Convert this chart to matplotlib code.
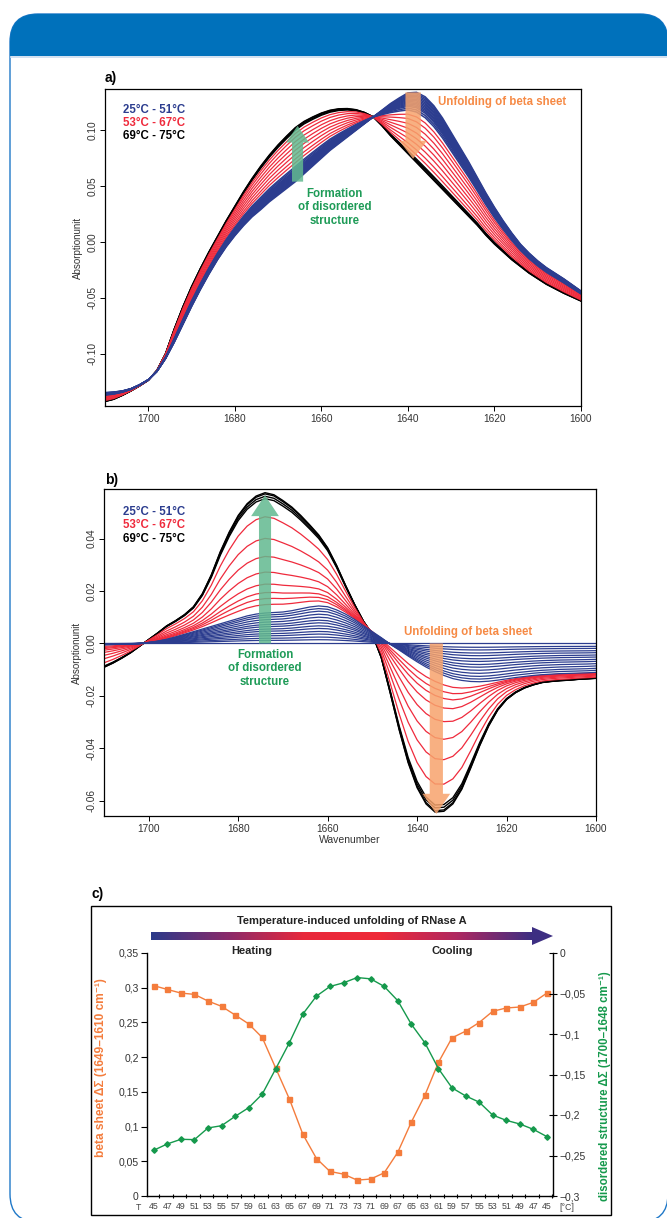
import numpy as np
import matplotlib
matplotlib.use('Agg')
import matplotlib.pyplot as plt
from matplotlib.patches import FancyBboxPatch, Rectangle, Polygon
from matplotlib.colors import LinearSegmentedColormap
from matplotlib.ticker import FuncFormatter

plt.rcParams['font.family'] = ['Liberation Sans', 'DejaVu Sans']

# ---- data ----
wavenumber = [1710, 1708, 1706, 1704, 1702, 1700, 1698, 1696, 1694, 1692, 1690, 1688, 1686,
              1684, 1682, 1680, 1678, 1676, 1674, 1672, 1670, 1668, 1666, 1664, 1662, 1660,
              1658, 1656, 1654, 1652, 1650, 1648, 1646, 1644, 1642, 1640, 1638, 1636, 1634,
              1632, 1630, 1628, 1626, 1624, 1622, 1620, 1618, 1616, 1614, 1612, 1610, 1608,
              1606, 1604, 1602, 1600]

# panel a: absorbance spectrum at 25 °C and at 75 °C
abs_25 = [-0.135, -0.1345, -0.1335, -0.1315, -0.128, -0.1235, -0.116, -0.1045, -0.090,
          -0.074, -0.058, -0.043, -0.029, -0.016, -0.0045, 0.0055, 0.0145, 0.0225, 0.029,
          0.036, 0.042, 0.048, 0.054, 0.061, 0.068, 0.075, 0.082, 0.088, 0.094, 0.100,
          0.106, 0.112, 0.118, 0.124, 0.129, 0.1335, 0.134, 0.130, 0.122, 0.111, 0.098,
          0.085, 0.072, 0.058, 0.044, 0.031, 0.019, 0.008, -0.002, -0.010, -0.017, -0.023,
          -0.028, -0.033, -0.0385, -0.044]
abs_75 = [-0.143, -0.141, -0.1375, -0.1335, -0.129, -0.124, -0.115, -0.100, -0.078, -0.058,
          -0.040, -0.024, -0.009, 0.005, 0.019, 0.032, 0.045, 0.057, 0.068, 0.078, 0.087,
          0.095, 0.1025, 0.108, 0.112, 0.1155, 0.118, 0.1193, 0.1195, 0.1185, 0.116, 0.112,
          0.104, 0.095, 0.087, 0.079, 0.071, 0.063, 0.055, 0.047, 0.039, 0.031, 0.023,
          0.015, 0.006, -0.002, -0.009, -0.016, -0.022, -0.028, -0.033, -0.038, -0.042,
          -0.046, -0.0495, -0.053]

# panel b: difference spectra at 51 °C and at 75 °C
diff_51 = [-0.0005, -0.0004, -0.0003, -0.0002, 0.0, 0.0004, 0.0009, 0.0016, 0.0025, 0.0035,
           0.0045, 0.0055, 0.0065, 0.0075, 0.0085, 0.0095, 0.0105, 0.0112, 0.0116, 0.0118,
           0.0120, 0.0125, 0.0132, 0.0139, 0.0143, 0.0140, 0.0128, 0.0112, 0.0092, 0.0068,
           0.0045, 0.0022, -0.0003, -0.0025, -0.0048, -0.0070, -0.0090, -0.0107, -0.0122,
           -0.0134, -0.0141, -0.0145, -0.0146, -0.0144, -0.0140, -0.0135, -0.0130, -0.0126,
           -0.0122, -0.0119, -0.0117, -0.0115, -0.0114, -0.0113, -0.0112, -0.0110]
diff_75 = [-0.0091, -0.0075, -0.0056, -0.0035, -0.0010, 0.0015, 0.0040, 0.0067, 0.0087,
           0.0110, 0.0140, 0.0190, 0.0262, 0.0350, 0.0425, 0.0488, 0.0533, 0.0562, 0.0575,
           0.0567, 0.0545, 0.0520, 0.0488, 0.0452, 0.0414, 0.0365, 0.0298, 0.0222, 0.0150,
           0.0085, 0.0035, -0.0055, -0.0190, -0.0330, -0.0455, -0.0550, -0.0612, -0.0643,
           -0.0640, -0.0612, -0.0556, -0.0475, -0.0390, -0.0315, -0.0255, -0.0214, -0.0188,
           -0.0170, -0.0158, -0.0149, -0.0145, -0.0142, -0.0140, -0.0137, -0.0135, -0.0133]

# relative position of each temperature curve between the two reference spectra
mix_a_blue = [0.0, 0.02, 0.04, 0.06, 0.08, 0.10, 0.12, 0.14, 0.16, 0.18, 0.20, 0.22, 0.25, 0.28]
mix_a_red = [0.35, 0.42, 0.50, 0.58, 0.66, 0.74, 0.82, 0.89]
mix_a_black = [0.95, 0.97, 0.99, 1.0]

mix_b_blue = [0.0, 0.10, 0.17, 0.25, 0.32, 0.40, 0.47, 0.55, 0.62, 0.70, 0.78, 0.86, 0.93, 1.0]
mix_b_red = [0.07, 0.12, 0.17, 0.24, 0.34, 0.47, 0.62, 0.80]
mix_b_black = [0.95, 0.97, 0.99, 1.0]

# panel c
temp_labels = ['45', '47', '49', '51', '53', '55', '57', '59', '61', '63', '65', '67', '69',
               '71', '73', '73', '71', '69', '67', '65', '63', '61', '59', '57', '55', '53',
               '51', '49', '47', '45']
beta_sheet = [0.303, 0.2975, 0.2923, 0.2904, 0.2808, 0.2732, 0.2607, 0.2479, 0.2283,
              0.1839, 0.1399, 0.0888, 0.054, 0.0353, 0.0315, 0.0229, 0.0244, 0.0334,
              0.063, 0.1065, 0.1452, 0.1925, 0.2278, 0.2374, 0.2498, 0.266, 0.2708,
              0.2722, 0.2789, 0.2923]
disordered = [-0.2435, -0.2357, -0.230, -0.2304, -0.216, -0.2132, -0.2017, -0.191, -0.1743,
              -0.1428, -0.1109, -0.0753, -0.0532, -0.0413, -0.0368, -0.0303, -0.0319,
              -0.0413, -0.0589, -0.088, -0.1109, -0.1428, -0.1665, -0.1764, -0.1841,
              -0.2001, -0.2066, -0.2111, -0.2177, -0.2267]

BLUE = '#2c3d8f'
RED = '#ef2a3c'
GREEN_TXT = '#1e9b57'
ORANGE_TXT = '#f68a45'
GREEN_ARROW = '#62b98f'
ORANGE_ARROW = '#f7a36c'

W, H = 667, 1218
fig = plt.figure(figsize=(W / 100, H / 100), dpi=100)

# background card in pixel coordinates
bg = fig.add_axes([0, 0, 1, 1], zorder=-1)
bg.set_xlim(0, W)
bg.set_ylim(H, 0)
bg.axis('off')
card = FancyBboxPatch((10, 14), 658, 1208, boxstyle='round,pad=0,rounding_size=28',
                      fc='white', ec='#1f78c8', lw=1.0)
bg.add_patch(card)
header = FancyBboxPatch((10, 14), 658, 90, boxstyle='round,pad=0,rounding_size=28',
                        fc='#0071bb', ec='none')
bg.add_patch(header)
header.set_clip_path(Rectangle((0, 0), W, 55.5, transform=bg.transData))
bg.plot([11, W], [56.5, 56.5], color='#c9dcef', lw=1.2)
bg.add_patch(Rectangle((91, 906), 520, 309, fill=False, ec='black', lw=1.0))

# gradient arrow of panel c
cmap = LinearSegmentedColormap.from_list('heat', ['#2b3a8a', '#8a2a6a', '#e8283c', '#ef2a38',
                                                  '#b02860', '#3d2e82'])
grad = np.linspace(0, 1, 256).reshape(1, -1)
bg.imshow(grad, cmap=cmap, extent=[151, 533, 940, 932], aspect='auto', zorder=2)
bg.add_patch(Polygon([[532, 927], [532, 945], [553, 936]], closed=True, fc='#3d2e82', ec='none', zorder=3))
bg.text(352, 921, 'Temperature-induced unfolding of RNase A', ha='center', va='center',
        fontsize=8, fontweight='bold', color='#222')
bg.text(252, 951, 'Heating', ha='center', va='center', fontsize=8, fontweight='bold', color='#222')
bg.text(452, 951, 'Cooling', ha='center', va='center', fontsize=8, fontweight='bold', color='#222')
bg.text(105, 78, 'a)', fontsize=10, fontweight='bold', va='center')
bg.text(105, 480, 'b)', fontsize=10, fontweight='bold', va='center')
bg.text(91, 894, 'c)', fontsize=10, fontweight='bold', va='center')
bg.text(139, 1208, 'T', fontsize=6.3, color='#444', ha='center', va='center')
bg.text(567, 1208, '[°C]', fontsize=6.3, color='#444', ha='center', va='center')

wn = np.array(wavenumber)


def style_r(ax, yticks, ylabels):
    for s in ax.spines.values():
        s.set_linewidth(0.9)
    ax.set_xlim(1710, 1600)
    ax.set_xticks([1700, 1680, 1660, 1640, 1620, 1600])
    ax.set_yticks(yticks)
    ax.set_yticklabels(ylabels)
    ax.tick_params(length=3.5, width=0.7, labelsize=7.3, labelcolor='#333', pad=2)
    plt.setp(ax.get_yticklabels(), rotation=90, va='center')
    ax.set_ylabel('Absorptionunit', fontsize=7, color='#333', labelpad=3)


def arrow(ax, x, y0, y1, color, tail, head_w, head_l):
    ax.annotate('', xy=(x, y1), xytext=(x, y0),
                arrowprops=dict(arrowstyle=f'simple,head_width={head_w},head_length={head_l},tail_width={tail}',
                                fc=color, ec='none', alpha=0.85, shrinkA=0, shrinkB=0,
                                mutation_scale=10), zorder=5)


def legend_text(ax, x, ys):
    for y, txt, c in zip(ys, ['25°C - 51°C', '53°C - 67°C', '69°C - 75°C'], [BLUE, RED, 'black']):
        ax.text(x, y, txt, color=c, fontsize=8.3, fontweight='bold', va='center', ha='left')


# ---- panel a ----
ax_a = fig.add_axes([105 / W, 1 - 406 / H, 476 / W, 317 / H])
a25, a75 = np.array(abs_25), np.array(abs_75)
for f in mix_a_black:
    ax_a.plot(wn, a25 + f * (a75 - a25), color='black', lw=1.0)
for f in mix_a_red:
    ax_a.plot(wn, a25 + f * (a75 - a25), color=RED, lw=0.9)
for f in mix_a_blue:
    ax_a.plot(wn, a25 + f * (a75 - a25), color=BLUE, lw=1.1)
ax_a.set_ylim(-0.147, 0.137)
style_r(ax_a, [0.10, 0.05, 0.00, -0.05, -0.10], ['0.10', '0.05', '0.00', '-0.05', '-0.10'])
arrow(ax_a, 1665.5, 0.054, 0.104, GREEN_ARROW, 0.8, 1.65, 1.2)
arrow(ax_a, 1638.8, 0.134, 0.0745, ORANGE_ARROW, 1.1, 2.0, 1.3)
ax_a.text(1657, 0.031, 'Formation\nof disordered\nstructure', color=GREEN_TXT, fontsize=8.3,
          fontweight='bold', ha='center', va='center', linespacing=1.15, zorder=6)
ax_a.text(1618.3, 0.1255, 'Unfolding of beta sheet', color=ORANGE_TXT, fontsize=8.3,
          fontweight='bold', ha='center', va='center', zorder=6)
legend_text(ax_a, 1705.8, [0.118, 0.1066, 0.0946])

# ---- panel b ----
ax_b = fig.add_axes([104 / W, 1 - 816 / H, 492 / W, 327 / H])
d51, d75 = np.array(diff_51), np.array(diff_75)
for f in mix_b_black:
    ax_b.plot(wn, d51 + f * (d75 - d51), color='black', lw=1.0)
for f in mix_b_red:
    ax_b.plot(wn, d51 + f * (d75 - d51), color=RED, lw=0.9)
for g in mix_b_blue:
    ax_b.plot(wn, g * d51, color=BLUE, lw=0.9)
ax_b.set_ylim(-0.0658, 0.0589)
style_r(ax_b, [0.04, 0.02, 0.00, -0.02, -0.04, -0.06],
        ['0.04', '0.02', '0.00', '-0.02', '-0.04', '-0.06'])
ax_b.set_xlabel('Wavenumber', fontsize=7.5, color='#333', labelpad=1)
arrow(ax_b, 1674, 0.0, 0.0565, GREEN_ARROW, 0.87, 2.0, 1.5)
arrow(ax_b, 1635.7, 0.0, -0.065, ORANGE_ARROW, 0.95, 2.0, 1.45)
ax_b.text(1674, -0.0095, 'Formation\nof disordered\nstructure', color=GREEN_TXT, fontsize=8.3,
          fontweight='bold', ha='center', va='center', linespacing=1.15, zorder=6)
ax_b.text(1628.5, 0.0044, 'Unfolding of beta sheet', color=ORANGE_TXT, fontsize=8.3,
          fontweight='bold', ha='center', va='center', zorder=6)
legend_text(ax_b, 1705.8, [0.0502, 0.0451, 0.0397])

# ---- panel c ----
ax_c = fig.add_axes([147 / W, 1 - 1196 / H, 406 / W, 243 / H])
ax_c.patch.set_visible(False)
x = np.arange(len(temp_labels))
ax_c.plot(x, beta_sheet, color='#f47c3c', marker='s', ms=3.6, lw=1.0)
ax_c.set_ylim(0, 0.35)
ax_c.set_xlim(-0.5, 29.45)
ax_c.set_yticks(np.arange(0, 0.36, 0.05))
ax_c.yaxis.set_major_formatter(FuncFormatter(lambda v, p: f'{v:.2f}'.rstrip('0').rstrip('.').replace('.', ',') if v else '0'))
ax_c.set_xticks(x)
ax_c.set_xticklabels(temp_labels)
ax_c.set_xticks(x + 0.4, minor=True)
ax_c.tick_params(axis='x', which='major', length=0, labelsize=6.3, labelcolor='#444', pad=4)
ax_c.tick_params(axis='x', which='minor', length=3, width=0.8, direction='inout')
ax_c.tick_params(axis='y', length=4, width=0.8, labelsize=7.5, labelcolor='#333', pad=2)
for s in ['top', 'right']:
    ax_c.spines[s].set_visible(False)
ax_c.spines['left'].set_linewidth(1.0)
ax_c.spines['bottom'].set_linewidth(1.0)
ax_c.set_ylabel('beta sheet ΔΣ (1649–1610 cm⁻¹)', color='#f47c3c', fontsize=8.6, fontweight='bold')
ax_c.yaxis.set_label_coords(-0.0985, 0.53)

ax_d = ax_c.twinx()
ax_d.patch.set_visible(False)
ax_d.plot(x, disordered, color='#15994c', marker='D', ms=2.8, lw=1.0)
ax_d.set_ylim(-0.3, 0)
ax_d.set_yticks([0, -0.05, -0.1, -0.15, -0.2, -0.25, -0.3])
ax_d.set_yticklabels(['0', '\u22120,05', '\u22120,1', '\u22120,15', '\u22120,2', '\u22120,25', '\u22120,3'])
ax_d.tick_params(axis='y', length=6, width=0.8, direction='inout', labelsize=7.5, labelcolor='#333', pad=2)
for s in ['top', 'left', 'bottom']:
    ax_d.spines[s].set_visible(False)
ax_d.spines['right'].set_linewidth(1.0)
ax_d.set_ylabel('disordered structure ΔΣ (1700–1648 cm⁻¹)', color='#15994c', fontsize=8.3,
                fontweight='bold')
ax_d.yaxis.set_label_coords(1.113, 0.453)

fig.savefig('out.png', dpi=100)
